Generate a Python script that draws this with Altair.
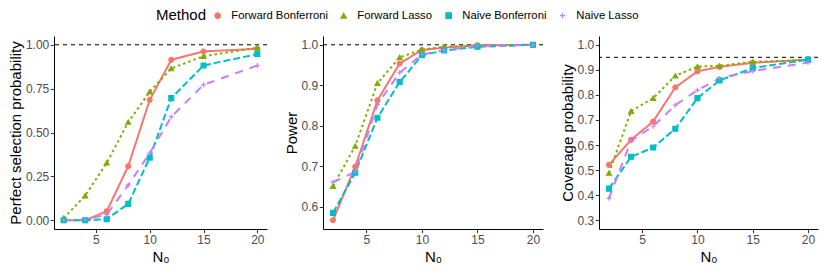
import altair as alt
import pandas as pd

N0 = [2, 4, 6, 8, 10, 12, 15, 20]
methods = ["Forward Bonferroni", "Forward Lasso", "Naive Bonferroni", "Naive Lasso"]
colors = ["#F8766D", "#7CAE00", "#00BFC4", "#C77CFF"]
shapes = ["circle", "triangle-up", "square", "M-1,0H1M0,-1V1"]
dashes = [[1, 0], [2.5, 3], [7, 3], [8, 7]]

# Perfect selection probability
sel_fb = [0.0, 0.0, 0.051, 0.308, 0.686, 0.914, 0.962, 0.977]
sel_fl = [0.012, 0.14, 0.327, 0.559, 0.732, 0.865, 0.935, 0.983]
sel_nb = [0.0, 0.0, 0.006, 0.093, 0.357, 0.696, 0.882, 0.947]
sel_nl = [0.0, 0.004, 0.032, 0.200, 0.382, 0.589, 0.772, 0.882]

# Power
pow_fb = [0.567, 0.699, 0.863, 0.954, 0.987, 0.993, 0.999, 1.0]
pow_fl = [0.651, 0.750, 0.905, 0.969, 0.988, 0.995, 0.998, 1.0]
pow_nb = [0.585, 0.684, 0.820, 0.908, 0.974, 0.986, 0.995, 1.0]
pow_nl = [0.661, 0.686, 0.853, 0.931, 0.976, 0.987, 0.997, 1.0]

# Coverage probability
cov_fb = [0.521, 0.621, 0.694, 0.830, 0.894, 0.912, 0.928, 0.941]
cov_fl = [0.488, 0.735, 0.787, 0.876, 0.913, 0.916, 0.932, 0.939]
cov_nb = [0.426, 0.553, 0.590, 0.665, 0.787, 0.858, 0.907, 0.941]
cov_nl = [0.387, 0.617, 0.675, 0.759, 0.819, 0.866, 0.895, 0.929]

FONT = "Liberation Sans"


def make_df(series):
    rows = []
    for m, vals in zip(methods, series):
        for n, v in zip(N0, vals):
            rows.append({"N0": n, "value": v, "Method": m})
    return pd.DataFrame(rows)


def panel(series, ytitle, ydomain, yticks, yfmt, hline, width):
    df = make_df(series)
    base = alt.Chart(df)
    x = alt.X("N0:Q",
              scale=alt.Scale(domain=[1.1, 20.9], nice=False, zero=False),
              axis=alt.Axis(values=[5, 10, 15, 20], title="N₀", format="d"))
    y = alt.Y("value:Q",
              scale=alt.Scale(domain=ydomain, nice=False, zero=False),
              axis=alt.Axis(values=yticks, format=yfmt, title=ytitle, labelOverlap=False))
    # line scales use the data-derived (alphabetical) domain so that their
    # hidden legends are not merged with the visible point legend
    lines = base.mark_line(strokeWidth=2).encode(
        x=x, y=y,
        color=alt.Color("Method:N", scale=alt.Scale(range=colors), legend=None),
        strokeDash=alt.StrokeDash("Method:N", scale=alt.Scale(range=dashes), legend=None),
        order=alt.Order("N0:Q"),
    )
    leg = alt.Legend(
        title="Method",
        labelFont=FONT, labelFontSize=11.3, labelColor="black", labelLimit=0,
        titleFont=FONT, titleFontSize=15, titleFontWeight="normal", titleColor="black",
    )
    points = base.mark_point(filled=True, size=24, strokeWidth=1.2, opacity=1).encode(
        x=x, y=y,
        fill=alt.Fill("Method:N", scale=alt.Scale(domain=methods, range=colors), legend=leg),
        stroke=alt.Stroke("Method:N", scale=alt.Scale(domain=methods, range=colors), legend=leg),
        shape=alt.Shape("Method:N", scale=alt.Scale(domain=methods, range=shapes), legend=leg),
    )
    rule = alt.Chart(pd.DataFrame({"value": [hline]})).mark_rule(
        color="black", strokeWidth=1, strokeDash=[4, 4]
    ).encode(y=y)
    return alt.layer(rule, lines, points).properties(width=width, height=193)


p1 = panel([sel_fb, sel_fl, sel_nb, sel_nl], "Perfect selection probability",
           [-0.05, 1.05], [0, 0.25, 0.5, 0.75, 1.0], ".2f", 1.0, 213)
p2 = panel([pow_fb, pow_fl, pow_nb, pow_nl], "Power",
           [0.5453, 1.0217], [0.6, 0.7, 0.8, 0.9, 1.0], ".1f", 1.0, 220)
p3 = panel([cov_fb, cov_fl, cov_nb, cov_nl], "Coverage probability",
           [0.265, 1.035], [0.3, 0.4, 0.5, 0.6, 0.7, 0.8, 0.9, 1.0], ".1f", 0.95, 219)

chart = alt.hconcat(p1, p2, p3, spacing=16).resolve_scale(
    y="independent"
).properties(
    padding={"left": 0, "top": 2, "right": 0, "bottom": 0}
).configure_view(stroke=None).configure_axis(
    grid=False,
    domainColor="black",
    domainWidth=1,
    tickColor="#333333",
    tickSize=3.7,
    labelFont=FONT,
    labelFontSize=12,
    labelColor="#4D4D4D",
    labelPadding=1.5,
    titleFont=FONT,
    titleFontSize=15,
    titleFontWeight="normal",
    titleColor="black",
).configure_axisY(titlePadding=2).configure_axisX(titlePadding=4).configure_legend(
    orient="none",
    legendX=102,
    legendY=-26,
    padding=0,
    direction="horizontal",
    titleOrient="left",
    titleFont=FONT,
    titleFontSize=15,
    titleFontWeight="normal",
    titleColor="black",
    labelFont=FONT,
    labelFontSize=11.3,
    labelColor="black",
    labelLimit=0,
    symbolSize=30,
    symbolStrokeWidth=1.2,
    columnPadding=10,
    titlePadding=5,
    labelOffset=8,
)

chart.save("out.html", embed_options={"renderer": "svg", "actions": False})
